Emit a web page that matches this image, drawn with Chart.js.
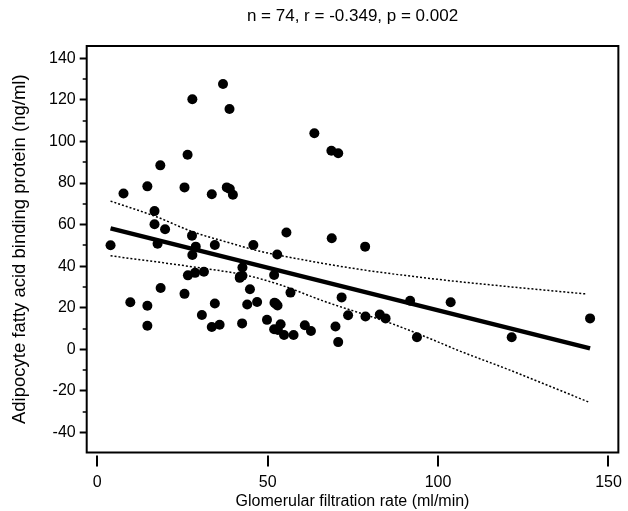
<!DOCTYPE html>
<html><head><meta charset="utf-8">
<script src="https://cdn.jsdelivr.net/npm/chart.js@4/dist/chart.umd.min.js"></script>
<style>html,body{margin:0;padding:0;background:#fff}#wrap{width:628px;height:511px}</style>
</head><body><div id="wrap"><canvas id="c" width="628" height="511"></canvas></div>
<script>
// Glomerular filtration rate (ml/min)
const gfr = [36.9,27.9,38.8,63.7,68.7,70.7,26.5,18.5,14.7,25.6,7.7,33.6,38.0,38.9,39.8,16.8,16.8,19.9,17.7,3.9,
  27.8,28.9,27.9,34.5,45.8,52.8,42.6,41.8,42.6,26.6,28.7,31.3,18.6,25.6,44.8,9.7,14.7,34.5,44.0,46.9,
  52.0,52.9,30.7,14.7,33.6,35.9,42.5,49.8,51.9,53.0,53.8,55.5,68.8,78.6,51.9,56.7,71.7,91.8,103.7,73.6,
  78.7,82.9,84.6,54.8,57.6,60.9,62.7,69.9,70.7,93.8,121.6,144.6,41.9,52.4];
// Adipocyte fatty acid binding protein (ng/ml)
const fabp = [127.6,120.3,115.6,103.9,95.5,94.3,93.6,88.5,78.4,77.9,75.0,74.6,77.9,77.1,74.4,66.5,60.2,57.8,50.8,50.1,
  54.7,49.4,45.4,50.2,50.2,45.6,39.4,34.4,35.4,35.6,36.8,37.3,29.5,26.7,28.9,22.7,21.0,22.1,21.6,22.8,
  22.4,21.1,16.5,11.4,10.8,11.8,12.5,14.2,9.7,9.3,12.1,56.2,53.4,49.4,35.8,27.3,25.0,23.4,22.7,16.4,
  15.8,16.8,14.9,6.9,6.9,11.6,8.8,11.0,3.5,5.8,5.8,14.9,35.0,22.0];
// regression line end points
const fitX = [3.9, 144.6];
const fitY = [58.2, 0.5];
// 95% confidence band
const upperX = [3.9, 17.3, 27.9, 37.6, 47.4, 53.2, 76.5, 99.8, 121.1, 143.7];
const upperY = [71.3, 63.8, 56.6, 51.8, 47.3, 45.3, 38.6, 33.7, 30.1, 26.6];
const lowerX = [3.9, 27.9, 43.5, 53.2, 66.8, 86.2, 99.8, 105.6, 121.1, 144.3];
const lowerY = [45.0, 39.7, 35.7, 31.3, 23.0, 12.5, 3.7, -0.3, -10.0, -25.4];
const xTicks = [0, 50, 100, 150];
const yTicks = [-40, -20, 0, 20, 40, 60, 80, 100, 120, 140];
const yMinorTicks = [-50, -30, -10, 10, 30, 50, 70, 90, 110, 130];
const titleText = 'n = 74, r = -0.349, p = 0.002';
const xTitle = 'Glomerular filtration rate (ml/min)';
const yTitle = 'Adipocyte fatty acid binding protein (ng/ml)';

const FONT = '"Liberation Sans", Arial, Helvetica, sans-serif';
const pts = (xs, ys) => xs.map((x, i) => ({x: x, y: ys[i]}));

const frame = {
  id: 'frame',
  afterDraw(chart) {
    const {ctx, chartArea: a, scales} = chart;
    ctx.save();
    ctx.strokeStyle = '#000';
    ctx.lineWidth = 2;
    ctx.strokeRect(a.left, a.top, a.right - a.left, a.bottom - a.top);
    // x ticks (offset below frame)
    ctx.beginPath();
    xTicks.forEach(v => {
      const px = Math.round(scales.x.getPixelForValue(v));
      ctx.moveTo(px, a.bottom + 3);
      ctx.lineTo(px, a.bottom + 14);
    });
    ctx.stroke();
    // y minor ticks
    ctx.lineWidth = 1.5;
    ctx.beginPath();
    yMinorTicks.forEach(v => {
      const py = Math.round(scales.y.getPixelForValue(v));
      if (py < a.top || py > a.bottom) return;
      ctx.moveTo(a.left - 4, py);
      ctx.lineTo(a.left, py);
    });
    ctx.stroke();
    ctx.restore();
  }
};

new Chart(document.getElementById('c'), {
  type: 'scatter',
  data: {
    datasets: [
      {data: pts(gfr, fabp), pointRadius: 5, pointHoverRadius: 5, backgroundColor: '#000', borderWidth: 0, order: 0},
      {data: pts(fitX, fitY), showLine: true, pointRadius: 0, borderColor: '#000', borderWidth: 4.5, order: 1},
      {data: pts(upperX, upperY), showLine: true, pointRadius: 0, borderColor: '#000', borderWidth: 1.5, borderDash: [2, 2], cubicInterpolationMode: 'monotone', order: 2},
      {data: pts(lowerX, lowerY), showLine: true, pointRadius: 0, borderColor: '#000', borderWidth: 1.5, borderDash: [2, 2], cubicInterpolationMode: 'monotone', order: 2}
    ]
  },
  options: {
    responsive: false,
    animation: false,
    devicePixelRatio: 1,
    events: [],
    layout: {padding: {left: 0, right: 5.7, top: 0, bottom: 0}},
    plugins: {
      legend: {display: false},
      tooltip: {enabled: false},
      title: {display: true, text: titleText, fullSize: false, color: '#000',
        font: {family: FONT, size: 17, weight: 'normal'}, padding: {top: 6.5, bottom: 19.1}}
    },
    scales: {
      x: {
        type: 'linear', min: -3.1, max: 152.9,
        afterBuildTicks: s => { s.ticks = xTicks.map(v => ({value: v})); },
        afterFit: s => { s.height = 58.5; },
        ticks: {color: '#000', font: {family: FONT, size: 16}, padding: 6, autoSkip: false, maxRotation: 0},
        grid: {drawOnChartArea: false, drawTicks: true, tickLength: 14, tickColor: 'rgba(0,0,0,0)'},
        border: {display: false},
        title: {display: true, text: xTitle, color: '#000', font: {family: FONT, size: 16}, padding: {top: 0, bottom: 0}}
      },
      y: {
        type: 'linear', min: -49.6, max: 145.9,
        afterBuildTicks: s => { s.ticks = yTicks.map(v => ({value: v})); },
        afterFit: s => { s.width = 86.7; },
        ticks: {color: '#000', font: {family: FONT, size: 16}, padding: 4, autoSkip: false},
        grid: {drawOnChartArea: false, drawTicks: true, tickLength: 7, tickColor: '#000', tickWidth: 2},
        border: {display: false},
        title: {display: true, text: yTitle, color: '#000', font: {family: FONT, size: 18.5}, padding: {top: 9, bottom: 0}}
      }
    }
  },
  plugins: [frame]
});
</script></body></html>
